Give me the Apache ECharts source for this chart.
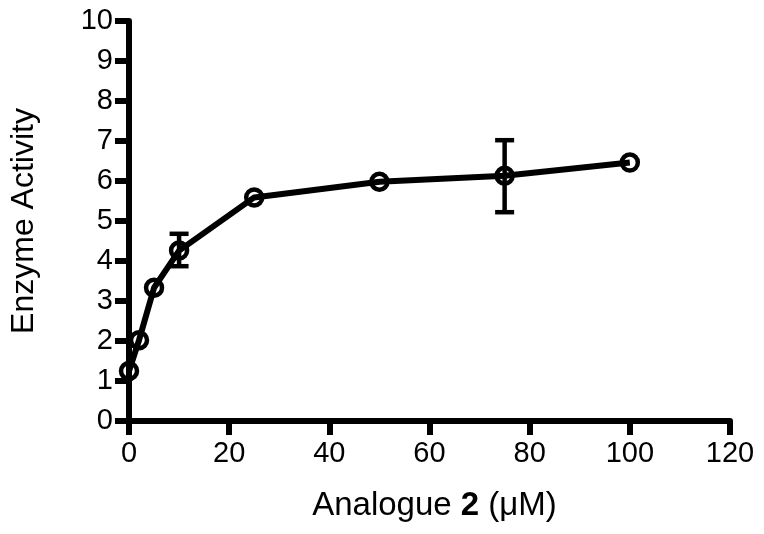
<!DOCTYPE html>
<html><head><meta charset="utf-8">
<script src="https://cdn.jsdelivr.net/npm/echarts@6/dist/echarts.min.js"></script>
<style>html,body{margin:0;padding:0;background:#fff}#c{width:764px;height:534px}</style>
</head><body><div id="c"></div>
<script>
var concentrations = [0, 2, 5, 10, 25, 50, 75, 100];
var activity = [1.25, 2.02, 3.33, 4.26, 5.59, 5.98, 6.13, 6.46];
var errLow = [null, null, null, 3.87, null, null, 5.22, null];
var errHigh = [null, null, null, 4.68, null, null, 7.02, null];
var xTicks = [0, 20, 40, 60, 80, 100, 120];
var yTicks = [0, 1, 2, 3, 4, 5, 6, 7, 8, 9, 10];

var lineData = concentrations.map(function (x, i) { return [x, activity[i]]; });
var errData = [];
concentrations.forEach(function (x, i) {
  if (errLow[i] != null) errData.push([x, errLow[i], errHigh[i]]);
});

var font = '"Liberation Sans", Arial, sans-serif';
var chart = echarts.init(document.getElementById('c'));
chart.setOption({
  animation: false,
  backgroundColor: '#fff',
  grid: { left: 129, right: 34, top: 21, bottom: 113, containLabel: false },
  xAxis: {
    type: 'value', min: xTicks[0], max: xTicks[xTicks.length - 1], interval: 20,
    axisLine: { show: true, onZero: false, lineStyle: { color: '#000', width: 6 } },
    axisTick: { show: true, length: 14, lineStyle: { color: '#000', width: 6 } },
    axisLabel: { color: '#000', fontSize: 29, fontFamily: font, margin: 18 },
    splitLine: { show: false },
    name: '{n|Analogue }{b|2}{n| (μM)}',
    nameLocation: 'middle', nameGap: 68,
    nameTextStyle: {
      padding: [0, 0, 0, 10],
      rich: {
        n: { fontSize: 33, fontFamily: font, color: '#000' },
        b: { fontSize: 33, fontFamily: font, color: '#000', fontWeight: 'bold' }
      }
    }
  },
  yAxis: {
    type: 'value', min: yTicks[0], max: yTicks[yTicks.length - 1], interval: 1,
    axisLine: { show: true, onZero: false, lineStyle: { color: '#000', width: 6 } },
    axisTick: { show: true, length: 14, lineStyle: { color: '#000', width: 6 } },
    axisLabel: { color: '#000', fontSize: 29, fontFamily: font, margin: 16 },
    splitLine: { show: false },
    name: 'Enzyme Activity', nameLocation: 'middle', nameGap: 89,
    nameTextStyle: { fontSize: 32, fontFamily: font, color: '#000' }
  },
  series: [
    {
      type: 'line', data: lineData, z: 3,
      lineStyle: { color: '#000', width: 6 },
      symbol: 'circle', symbolSize: 16,
      itemStyle: { color: 'rgba(255,255,255,0)', borderColor: '#000', borderWidth: 4.5 }
    },
    {
      type: 'custom', z: 4,
      data: errData,
      renderItem: function (params, api) {
        var x = api.value(0);
        var lo = api.coord([x, api.value(1)]);
        var hi = api.coord([x, api.value(2)]);
        var hw = 9.5;
        var st = { stroke: '#000', lineWidth: 4.5 };
        return {
          type: 'group',
          children: [
            { type: 'line', shape: { x1: lo[0], y1: lo[1], x2: hi[0], y2: hi[1] }, style: st },
            { type: 'line', shape: { x1: lo[0] - hw, y1: lo[1], x2: lo[0] + hw, y2: lo[1] }, style: st },
            { type: 'line', shape: { x1: hi[0] - hw, y1: hi[1], x2: hi[0] + hw, y2: hi[1] }, style: st }
          ]
        };
      }
    }
  ]
});
</script></body></html>
